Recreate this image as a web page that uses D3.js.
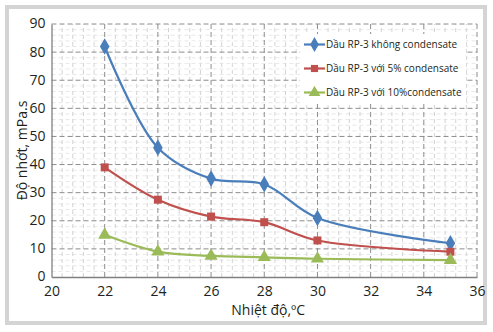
<!DOCTYPE html>
<html>
<head>
<meta charset="utf-8">
<script src="https://cdn.jsdelivr.net/npm/d3@7"></script>
<style>
  body { margin: 0; background: #fff; }
  svg { display: block; font-family: "Open Sans", "Liberation Sans", sans-serif; }
</style>
</head>
<body>
<svg id="chart" width="493" height="332"></svg>
<script>
// --- Data ---
const temps = [22, 24, 26, 28, 30, 35];
const seriesNames = [
  "Dầu RP-3 không condensate",
  "Dầu RP-3 với 5% condensate",
  "Dầu RP-3 với 10%condensate"
];
const noCondensate = [82, 46, 35, 33, 21, 12];
const fivePct = [39, 27.5, 21.5, 19.5, 13, 9];
const tenPct = [15, 9, 7.5, 7, 6.5, 6];
const xTicks = [20, 22, 24, 26, 28, 30, 32, 34, 36];
const yTicks = [0, 10, 20, 30, 40, 50, 60, 70, 80, 90];

const colors = ["#4a7ebb", "#c0504d", "#9bbb59"];
const markers = [d3.symbolDiamond, d3.symbolSquare, d3.symbolTriangle];
const markerSize = [80, 64, 75];

const series = [noCondensate, fivePct, tenPct].map((vals, i) => ({
  name: seriesNames[i],
  color: colors[i],
  symbol: markers[i],
  size: markerSize[i],
  points: temps.map((t, j) => ({ t, v: vals[j] }))
}));

const svg = d3.select("#chart");

// outer frame
svg.append("rect")
  .attr("x", 7).attr("y", 7).attr("width", 478).attr("height", 316)
  .attr("fill", "#fff").attr("stroke", "#d4d4d4").attr("stroke-width", 4);

// --- Scales ---
const x = d3.scaleLinear().domain([20, 36]).range([51.5, 477]);
const y = d3.scaleLinear().domain([0, 90]).range([277, 24]);

const g = svg.append("g");

// minor grid
const minorX = d3.range(20, 36.01, 0.4).filter(v => Math.abs(v / 2 - Math.round(v / 2)) > 0.01);
const minorY = d3.range(0, 90.01, 2).filter(v => v % 10 !== 0);
g.selectAll(".mx").data(minorX).join("line")
  .attr("x1", d => x(d)).attr("x2", d => x(d))
  .attr("y1", y(0)).attr("y2", y(90))
  .attr("stroke", "#c8c8c8").attr("stroke-width", 0.8).attr("stroke-dasharray", "4,3");
g.selectAll(".my").data(minorY).join("line")
  .attr("x1", x(20)).attr("x2", x(36))
  .attr("y1", d => y(d)).attr("y2", d => y(d))
  .attr("stroke", "#d6d6d6").attr("stroke-width", 0.6).attr("stroke-dasharray", "4,3");

// major grid
g.selectAll(".gx").data(xTicks.slice(1)).join("line")
  .attr("x1", d => x(d)).attr("x2", d => x(d))
  .attr("y1", y(0)).attr("y2", y(90))
  .attr("stroke", "#8c8c8c").attr("stroke-width", 1).attr("stroke-dasharray", "5,3");
g.selectAll(".gy").data(yTicks.slice(1)).join("line")
  .attr("x1", x(20)).attr("x2", x(36))
  .attr("y1", d => y(d)).attr("y2", d => y(d))
  .attr("stroke", "#8c8c8c").attr("stroke-width", 1).attr("stroke-dasharray", "5,3");

// axes
const xAxis = g.append("g").attr("transform", `translate(0,${y(0)})`)
  .call(d3.axisBottom(x).tickValues(xTicks).tickSize(0).tickPadding(9));
const yAxis = g.append("g").attr("transform", `translate(${x(20)},0)`)
  .call(d3.axisLeft(y).tickValues(yTicks).tickSize(0).tickPadding(6));
[xAxis, yAxis].forEach(a => {
  a.select(".domain").attr("stroke", "#808080").attr("stroke-width", 1.3);
  a.selectAll("text").attr("font-size", 14).attr("fill", "#231f20")
    .attr("font-family", "'Open Sans', sans-serif");
});
yAxis.selectAll("text").attr("dy", "0.28em");

// axis titles
svg.append("text")
  .attr("x", (x(20) + x(36)) / 2 + 4).attr("y", 315)
  .attr("text-anchor", "middle").attr("font-size", 14).attr("fill", "#231f20")
  .text("Nhiệt độ,ºC");
svg.append("text")
  .attr("transform", `translate(27,${(y(0) + y(90)) / 2}) rotate(-90)`)
  .attr("text-anchor", "middle").attr("font-size", 14).attr("fill", "#231f20")
  .text("Độ nhớt, mPa.s");

// lines
const line = d3.line()
  .x(d => x(d.t)).y(d => y(d.v))
  .curve(d3.curveCatmullRom.alpha(0.5));

series.forEach(s => {
  g.append("path").datum(s.points)
    .attr("fill", "none").attr("stroke", s.color).attr("stroke-width", 2.2)
    .attr("d", line);
  g.selectAll(null).data(s.points).join("path")
    .attr("transform", d => `translate(${x(d.t)},${y(d.v)})`)
    .attr("d", d3.symbol().type(s.symbol).size(s.size))
    .attr("fill", s.color);
});

// legend
const lg = svg.append("g");
lg.append("rect").attr("x", 300).attr("y", 34).attr("width", 166).attr("height", 70)
  .attr("fill", "#fff");
series.forEach((s, i) => {
  const ly = 44.5 + i * 24;
  lg.append("line").attr("x1", 304).attr("x2", 325).attr("y1", ly).attr("y2", ly)
    .attr("stroke", s.color).attr("stroke-width", 2.2);
  lg.append("path").attr("transform", `translate(314.5,${ly})`)
    .attr("d", d3.symbol().type(s.symbol).size(s.size * 0.8)).attr("fill", s.color);
  lg.append("text").attr("x", 326).attr("y", ly + 3.5)
    .attr("font-size", 10).attr("fill", "#231f20")
    .text(s.name);
});
</script>
</body>
</html>
